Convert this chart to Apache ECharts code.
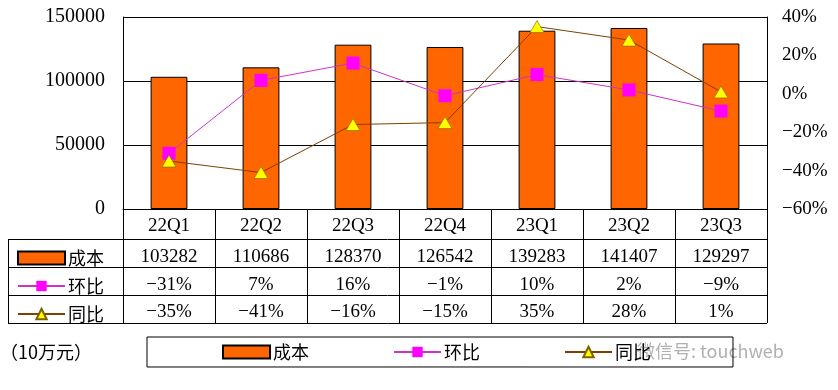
<!DOCTYPE html>
<html><head><meta charset="utf-8">
<script src="https://cdn.jsdelivr.net/npm/echarts@6/dist/echarts.min.js"></script>
<style>html,body{margin:0;padding:0;background:#fff}#c{width:838px;height:390px}</style>
</head><body><div id="c"></div>
<script>
var categories = ['22Q1','22Q2','22Q3','22Q4','23Q1','23Q2','23Q3'];
var cost = [103282,110686,128370,126542,139283,141407,129297];
var qoq = [-31,7,16,-1,10,2,-9];
var yoy = [-35,-41,-16,-15,35,28,1];
var leftTicks = {min:0,max:150000,interval:50000};
var rightTicks = {min:-60,max:40,interval:20};
var seriesNames = ['成本','环比','同比'];
var unitLabel = '（10万元）';
var watermark = '微信号: touchweb';

var FONT = '"Liberation Serif", "Noto Sans CJK SC", serif';
var CJK = '"Noto Sans CJK SC", sans-serif';
var FS = 19;
var G = {left:123, right:71, top:17, bottom:181};
var gridRight = 838 - G.right, gridBottom = 390 - G.bottom;
var rowY = [gridBottom + 30, gridBottom + 58, gridBottom + 86, gridBottom + 114];

function minus(s){ return String(s).replace('-', '\u2212'); }
function pct(v){ return minus(v + '%'); }
function rowAxis(vals, offset, margin, fmt){
  return {type:'category', data: vals.map(fmt), gridIndex:0, position:'bottom', offset: offset,
    axisLine:{show:false}, axisTick:{show:false},
    axisLabel:{interval:0, margin:margin, fontSize:FS, color:'#000', fontFamily:FONT}};
}
function legendData(){
  return seriesNames.map(function(n, i){ return i === 0 ? {name:n, icon:'rect'} : {name:n}; });
}

var chart = echarts.init(document.getElementById('c'), null, {renderer:'canvas'});
var hl = [];
rowY.forEach(function(y){
  hl.push({type:'line', shape:{x1:8, y1:y+0.5, x2:gridRight, y2:y+0.5}, style:{stroke:'#000', lineWidth:1}, silent:true});
});
hl.push({type:'line', shape:{x1:8.5, y1:rowY[0], x2:8.5, y2:rowY[3]}, style:{stroke:'#000', lineWidth:1}, silent:true});
hl.push({type:'text', left:0, top:343, style:{text:unitLabel, font:'18px ' + CJK, fill:'#000'}});
hl.push({type:'text', left:637, top:342, style:{text:watermark, font:'18px ' + CJK, fill:'rgba(150,150,150,0.75)'}});

chart.setOption({
  animation:false,
  backgroundColor:'#fff',
  grid:{left:G.left, right:G.right, top:G.top, bottom:G.bottom, containLabel:false},
  legend:[{
    data:legendData(),
    left:147, top:337, orient:'horizontal',
    padding:[6,82,6,75], itemGap:84, itemWidth:47, itemHeight:13,
    borderColor:'#000', borderWidth:1,
    textStyle:{fontSize:18, color:'#000', fontFamily:CJK, padding:[0,0,0,-2]},
    selectedMode:false
  },{
    data:legendData(),
    left:17, top:249, orient:'vertical', padding:0, itemGap:10,
    itemWidth:47, itemHeight:13, icon:null,
    textStyle:{fontSize:18, color:'#000', fontFamily:CJK, padding:[0,0,0,-2]},
    selectedMode:false
  }],
  xAxis:[
    {type:'category', data:categories, position:'bottom',
      axisLine:{show:true, lineStyle:{color:'#000', width:1}},
      axisTick:{show:true, length:114, interval:0, lineStyle:{color:'#000', width:1}},
      axisLabel:{interval:0, margin:8, fontSize:FS, color:'#000', fontFamily:FONT}},
    rowAxis(cost, 30, 9, function(v){return String(v);}),
    rowAxis(qoq, 58, 9, pct),
    rowAxis(yoy, 86, 8, pct)
  ],
  yAxis:[
    {type:'value', min:leftTicks.min, max:leftTicks.max, interval:leftTicks.interval, position:'left',
      axisLine:{show:true, lineStyle:{color:'#000'}}, axisTick:{show:false},
      splitLine:{show:true, lineStyle:{color:'#000', width:1}},
      axisLabel:{margin:18, fontSize:20, color:'#000', fontFamily:FONT, formatter:function(v){return String(v);}}},
    {type:'value', min:rightTicks.min, max:rightTicks.max, interval:rightTicks.interval, position:'right',
      axisLine:{show:true, lineStyle:{color:'#000'}}, axisTick:{show:false},
      splitLine:{show:false},
      axisLabel:{margin:15, fontSize:FS, color:'#000', fontFamily:FONT, formatter:function(v){return pct(v);}}}
  ],
  series:[
    {name:seriesNames[0], type:'bar', data:cost, xAxisIndex:0, yAxisIndex:0, barWidth:'40%',
      itemStyle:{color:'#FF6600', borderColor:'#000', borderWidth:1, borderRadius:0}},
    {name:seriesNames[1], type:'line', data:qoq, xAxisIndex:0, yAxisIndex:1,
      symbol:'rect', symbolSize:13,
      lineStyle:{color:'#CC33CC', width:1}, itemStyle:{color:'#FF00FF', borderColor:'#FF00FF', borderWidth:0}},
    {name:seriesNames[2], type:'line', data:yoy, xAxisIndex:0, yAxisIndex:1,
      symbol:'triangle', symbolSize:[14,12],
      lineStyle:{color:'#804000', width:1}, itemStyle:{color:'#FFFF00', borderColor:'#806000', borderWidth:0.6}}
  ],
  graphic: hl
});
</script></body></html>
